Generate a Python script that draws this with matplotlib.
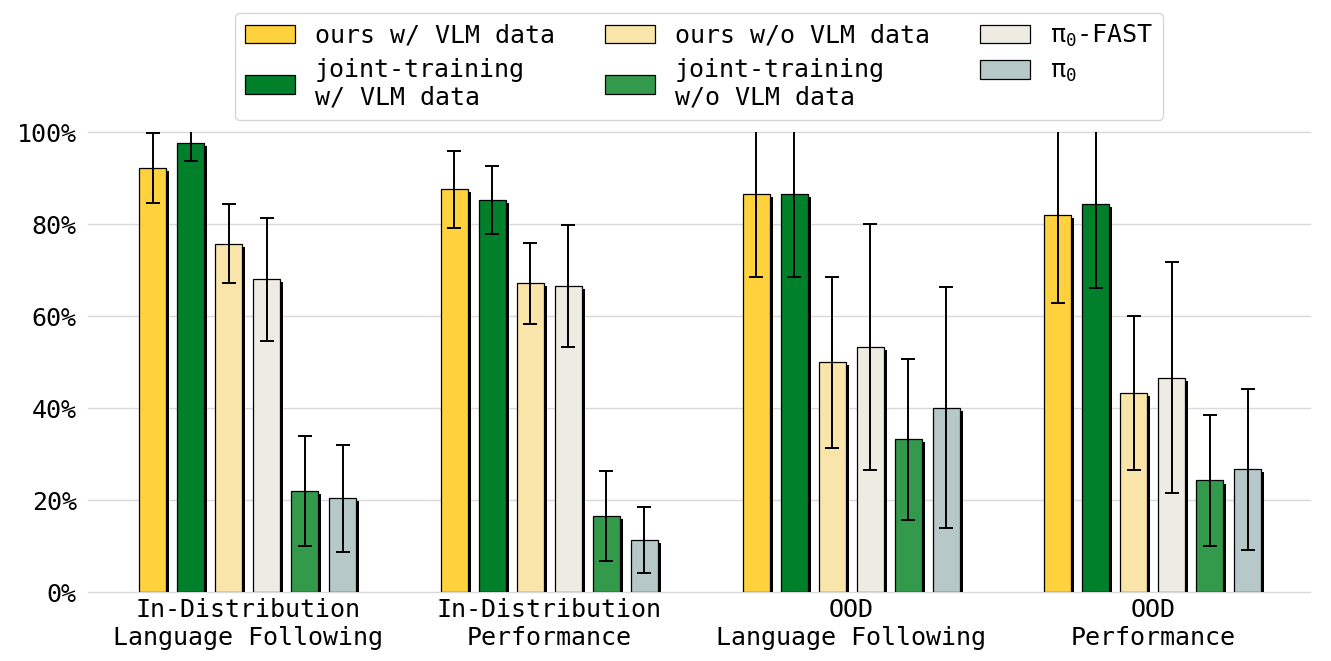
import numpy as np
import matplotlib
matplotlib.use("Agg")
import matplotlib.pyplot as plt
import matplotlib.patheffects as pe
from matplotlib.patches import Patch
from matplotlib.ticker import PercentFormatter

plt.rcParams['font.family'] = ['DejaVu Sans Mono', 'DejaVu Sans']
plt.rcParams['mathtext.default'] = 'regular'

categories = ["In-Distribution\nLanguage Following", "In-Distribution\nPerformance",
              "OOD\nLanguage Following", "OOD\nPerformance"]

# bar order within each group
series = ["ours w/ VLM data", "joint-training\nw/ VLM data", "ours w/o VLM data",
          "π$_0$-FAST", "joint-training\nw/o VLM data", "π$_0$"]
colors = ["#FFD23D", "#00802B", "#F9E4AA", "#EEEBE3", "#339A4B", "#B6C8C7"]

ours_vlm = [92.2, 87.6, 86.5, 82.1]
joint_vlm = [97.7, 85.2, 86.5, 84.3]
ours_novlm = [75.8, 67.2, 50.0, 43.3]
pi0_fast = [68.0, 66.6, 53.3, 46.6]
joint_novlm = [22.0, 16.6, 33.3, 24.3]
pi0 = [20.4, 11.4, 40.1, 26.7]

ours_vlm_err = [7.6, 8.4, 18.0, 19.3]
joint_vlm_err = [3.9, 7.4, 18.0, 18.2]
ours_novlm_err = [8.6, 8.8, 18.6, 16.7]
pi0_fast_err = [13.3, 13.2, 26.7, 25.1]
joint_novlm_err = [11.9, 9.7, 17.5, 14.3]
pi0_err = [11.7, 7.2, 26.2, 17.5]

values = [ours_vlm, joint_vlm, ours_novlm, pi0_fast, joint_novlm, pi0]
errors = [ours_vlm_err, joint_vlm_err, ours_novlm_err, pi0_fast_err, joint_novlm_err, pi0_err]

fig = plt.figure(figsize=(13.31, 6.61), dpi=100)
ax = fig.add_axes([0.066, 0.104, 0.918, 0.696])

x = np.arange(len(categories))
step = 0.126
width = 0.089
shadow = [pe.SimplePatchShadow(offset=(2.2, -2.2), shadow_rgbFace='black', alpha=1.0), pe.Normal()]

handles = []
for i, (vals, errs, col, lab) in enumerate(zip(values, errors, colors, series)):
    xs = x + (i - 2.5) * step
    bars = ax.bar(xs, vals, width, color=col, edgecolor='black', linewidth=0.9, zorder=3)
    for b in bars:
        b.set_path_effects(shadow)
    ax.errorbar(xs, vals, yerr=errs, fmt='none', ecolor='black', elinewidth=1.4,
                capsize=4.8, capthick=1.4, zorder=4)
    handles.append(Patch(facecolor=col, edgecolor='black', linewidth=0.9, label=lab))

ax.set_xlim(-0.53, 3.52)
ax.set_ylim(0, 100)
ax.set_yticks([0, 20, 40, 60, 80, 100])
ax.yaxis.set_major_formatter(PercentFormatter(decimals=0))
ax.set_xticks(x)
ax.set_xticklabels(categories)
ax.tick_params(axis='both', length=0, labelsize=18)
ax.tick_params(axis='y', pad=8)
ax.tick_params(axis='x', pad=4)
ax.grid(axis='y', color='#d9d9d9', linewidth=1.0, zorder=0)
for gl in ax.get_ygridlines():
    gl.set_clip_on(False)
ax.set_axisbelow(True)
for s in ax.spines.values():
    s.set_visible(False)

# legend order: column-major with 3 columns
order = [0, 1, 2, 4, 3, 5]
leg = ax.legend([handles[k] for k in order], [series[k] for k in order],
                loc='lower center', bbox_to_anchor=(0.5, 1.0), ncol=3, fontsize=18,
                frameon=True, handlelength=2.0, handleheight=0.75, columnspacing=2.0,
                handletextpad=0.8, labelspacing=0.4, borderaxespad=0.5)
leg.get_frame().set_edgecolor('#cccccc')

fig.savefig("out.png", dpi=100)
